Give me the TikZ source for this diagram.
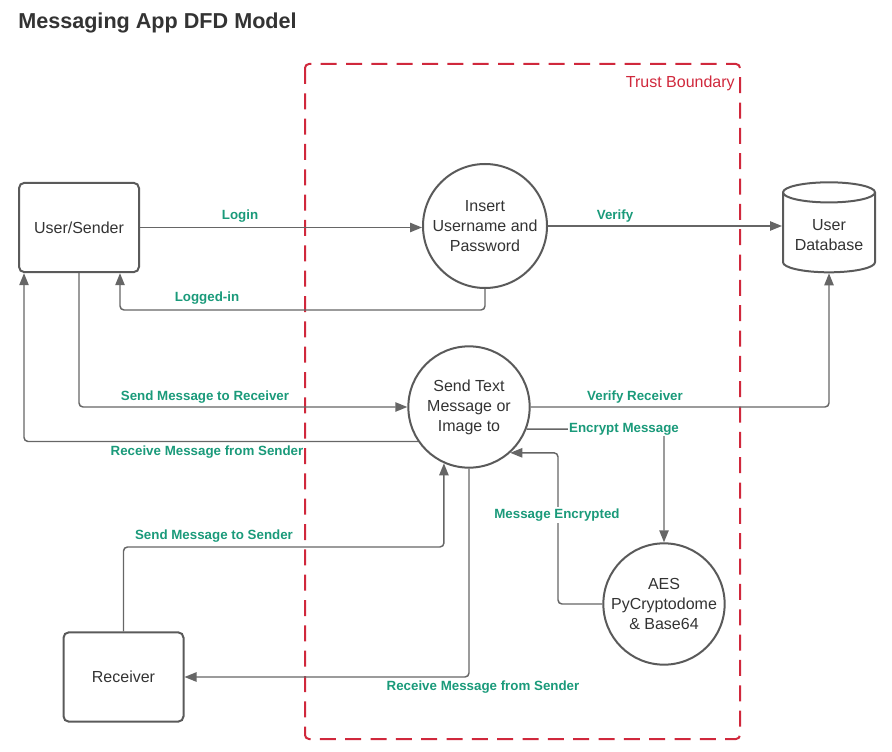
\documentclass[tikz,border=0pt]{standalone}
\usepackage{fontspec}
\setmainfont{Liberation Sans}
\usetikzlibrary{arrows.meta,shapes.geometric}
\definecolor{lbl}{HTML}{1A9A7A}
\definecolor{edge}{HTML}{666666}
\definecolor{bord}{HTML}{5A5A5A}
\definecolor{txt}{HTML}{333333}
\definecolor{trust}{HTML}{D0283C}
\begin{document}
\begin{tikzpicture}[x=0.75pt,y=-0.75pt,
 entity/.style={draw=bord, line width=1.5pt, rounded corners=4pt, minimum width=90pt, minimum height=67pt, font=\fontsize{12}{15}\selectfont, text=txt, align=center},
 proc/.style={circle, draw=bord, line width=1.5pt, minimum size=91pt, inner sep=0pt, font=\fontsize{12}{15}\selectfont, text=txt, align=center},
 store/.style={cylinder, shape border rotate=90, aspect=0.26, draw=bord, line width=1.5pt, minimum width=69pt, minimum height=67.5pt, font=\fontsize{12}{15}\selectfont, text=txt, align=center},
 flow/.style={draw=edge, line width=1.1pt, rounded corners=3pt, -{Triangle[length=9pt,width=7pt]}},
 lab/.style={text=lbl, font=\fontsize{10}{12}\selectfont\bfseries, inner sep=1pt},
 tb/.style={draw=trust, line width=1.5pt, dash pattern=on 12pt off 7pt, rounded corners=3pt}
]
\useasboundingbox (0,0) rectangle (892,752);
% title
\node[anchor=west, font=\fontsize{16.2}{19}\selectfont\bfseries, text=txt, inner sep=0pt] (title) at (18,23) {Messaging App DFD Model};
% trust boundary
\draw[tb] (305,64) rectangle (740,739);
\node[text=trust, font=\fontsize{12}{14}\selectfont, anchor=east, inner sep=0pt] (tbl) at (735,83) {Trust Boundary};
% nodes
\node[entity] (user) at (79,227.5) {User/Sender};
\node[entity] (rcv) at (123.5,677) {Receiver};
\node[proc, minimum size=93pt] (ins) at (485,226) {Insert\\Username and\\Password};
\node[proc] (stx) at (469,407) {Send Text\\Message or\\Image to};
\node[proc] (aes) at (664,604) {AES\\PyCryptodome\\\& Base64};
\node[store] (db) at (829,235) {User\\Database};
% coordinates
\coordinate (c1) at (120,310);
\coordinate (c2) at (24,441);
\coordinate (c3) at (558,0);
\coordinate (c4) at (0,547);
% flows
\draw[flow] (user.east) -- (user.east -| ins.west);
\draw[flow] (ins.east) -- (ins.east -| db.west);
\draw[flow] (ins.south) |- (c1) -- (c1 |- user.south);
\draw[flow] (user.south) |- (stx.west);
\draw[flow] (stx.214) -- (stx.214 -| c2) -- (c2 |- user.south);
\draw[flow] (stx.east) -| (db.south);
\draw[flow] (stx.-21) -| (aes.north);
\draw[flow] (aes.west) -| (c3 |- stx.-48) -- (stx.-48);
\draw[flow] (rcv.north) |- (c4 -| stx.-114) -- (stx.-114);
\draw[flow] (stx.south) |- (rcv.east);
% labels
\node[lab] (l1) at (240,216) {Login};
\node[lab] (l2) at (615,216) {Verify};
\node[lab] (l3) at (207,298) {Logged-in};
\node[lab] (l4) at (205,397) {Send Message to Receiver};
\node[lab] (l5) at (207,452) {Receive Message from Sender};
\node[lab] (l6) at (635,397) {Verify Receiver};
\node[lab, fill=white] (l7) at (624,429) {Encrypt Message};
\node[lab, fill=white] (l8) at (557,515) {Message Encrypted};
\node[lab] (l9) at (214,536) {Send Message to Sender};
\node[lab] (l10) at (483,687) {Receive Message from Sender};
\end{tikzpicture}
\end{document}
